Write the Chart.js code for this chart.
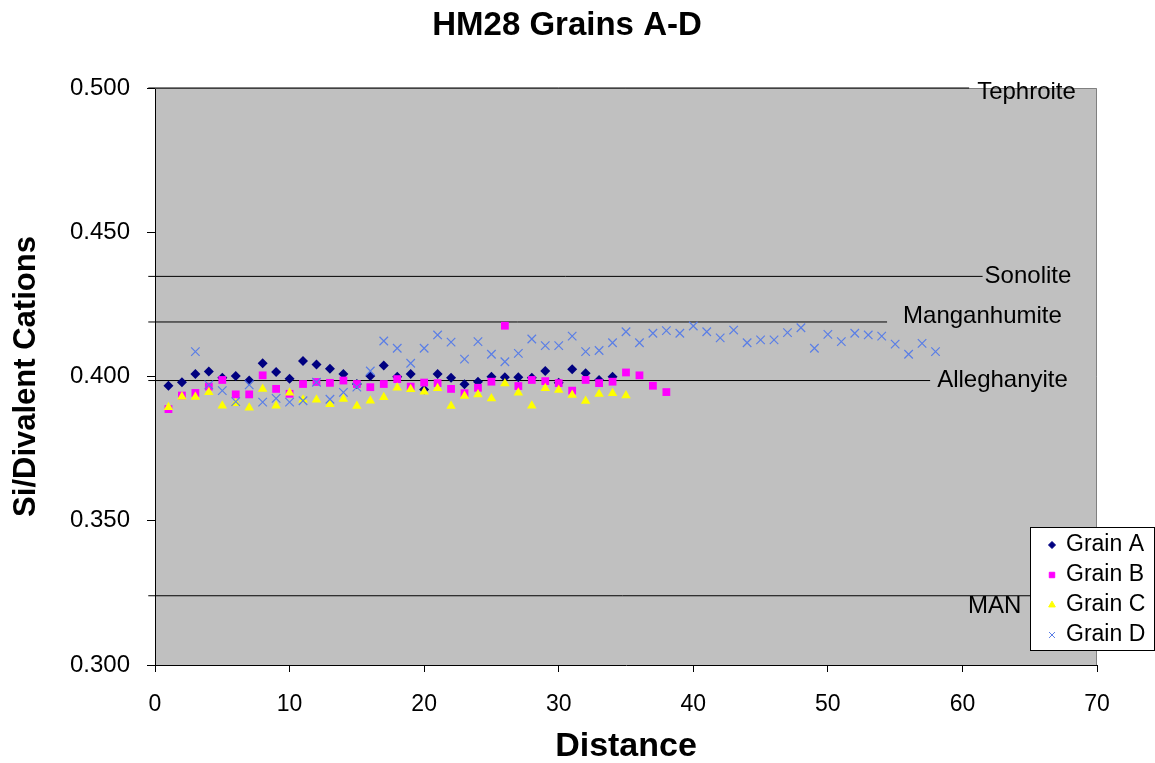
<!DOCTYPE html>
<html>
<head>
<meta charset="utf-8">
<title>HM28 Grains A-D</title>
<script src="https://cdn.jsdelivr.net/npm/chart.js@4.4.1/dist/chart.umd.min.js"></script>
<style>
  body { margin: 0; background: #fff; }
  #wrap { width: 1155px; height: 763px; }
</style>
</head>
<body>
<div id="wrap"><canvas id="chart"></canvas></div>
<script>
// Si / divalent cations along each traverse, one value per distance step
const grainA = [0.3968, 0.3980, 0.4009, 0.4017, 0.3996, 0.4002, 0.3986, 0.4046, 0.4016, 0.3992,
                0.4054, 0.4042, 0.4027, 0.4009, 0.3974, 0.4002, 0.4038, 0.3999, 0.4009, 0.3955,
                0.4009, 0.3996, 0.3973, 0.3982, 0.3999, 0.3997, 0.3997, 0.3996, 0.4019, 0.3978,
                0.4025, 0.4011, 0.3988, 0.3999];
const grainB = [0.3887, 0.3934, 0.3943, 0.3965, 0.3988, 0.3938, 0.3938, 0.4004, 0.3957, 0.3940,
                0.3974, 0.3981, 0.3978, 0.3986, 0.3974, 0.3963, 0.3974, 0.3991, 0.3965, 0.3979,
                0.3977, 0.3957, 0.3942, 0.3961, 0.3982, 0.4176, 0.3967, 0.3988, 0.3984, 0.3977,
                0.3951, 0.3988, 0.3977, 0.3982, 0.4014, 0.4004, 0.3968, 0.3946];
const grainC = [0.3893, 0.3930, 0.3929, 0.3945, 0.3899, 0.3907, 0.3892, 0.3957, 0.3899, 0.3944,
                0.3919, 0.3919, 0.3904, 0.3922, 0.3898, 0.3916, 0.3928, 0.3961, 0.3956, 0.3947,
                0.3959, 0.3898, 0.3932, 0.3938, 0.3924, 0.3976, 0.3944, 0.3899, 0.3959, 0.3953,
                0.3936, 0.3915, 0.3939, 0.3942, 0.3934];
// grain D starts at distance 3
const grainD = [0.4086, 0.3971, 0.3951, 0.3913, 0.3971, 0.3911, 0.3924, 0.3911, 0.3916, 0.3980,
                0.3921, 0.3945, 0.3963, 0.4019, 0.4123, 0.4098, 0.4046, 0.4098, 0.4144, 0.4119,
                0.4060, 0.4121, 0.4077, 0.4051, 0.4080, 0.4130, 0.4107, 0.4107, 0.4140, 0.4086,
                0.4090, 0.4117, 0.4155, 0.4117, 0.4150, 0.4159, 0.4150, 0.4175, 0.4155, 0.4134,
                0.4161, 0.4117, 0.4127, 0.4127, 0.4152, 0.4169, 0.4098, 0.4146, 0.4121, 0.4150,
                0.4144, 0.4140, 0.4112, 0.4077, 0.4115, 0.4086];
const grainStart = [1, 1, 1, 3];
const grainNames = ['Grain A', 'Grain B', 'Grain C', 'Grain D'];

// reference ratios of the Mn minerals
const minerals = ['Tephroite', 'Sonolite', 'Manganhumite', 'Alleghanyite', 'MAN'];
const mineralRatio = [0.500, 0.4347, 0.4189, 0.3986, 0.3240];
const mineralLineEnd = [60.5, 61.5, 54.4, 57.6, 70];
const mineralLineStart = -0.5;

const yTicks = [0.300, 0.350, 0.400, 0.450, 0.500];

const FONT = "'Liberation Sans', Arial, sans-serif";

function toPoints(values, start) {
	return values.map((v, i) => ({ x: start + i, y: v }));
}

// pixel nudges for the mineral names, relative to the end of their line
const labelNudge = [[8, 4], [2, 0], [16, -6], [7, 0], [-129, 11]];

const plotBackground = {
	id: 'plotBackground',
	beforeDraw(chart) {
		const { ctx, chartArea: a } = chart;
		ctx.save();
		ctx.fillStyle = '#c0c0c0';
		ctx.fillRect(a.left, a.top, a.right - a.left, a.bottom - a.top);
		ctx.restore();
	},
	beforeDatasetsDraw(chart) {
		const { ctx, chartArea: a } = chart;
		ctx.save();
		ctx.strokeStyle = '#808080';
		ctx.lineWidth = 1;
		ctx.beginPath();
		ctx.moveTo(a.left, a.top + 0.5);
		ctx.lineTo(a.right - 0.5, a.top + 0.5);
		ctx.lineTo(a.right - 0.5, a.bottom);
		ctx.stroke();
		ctx.restore();
	}
};

const mineralLabels = {
	id: 'mineralLabels',
	afterDatasetsDraw(chart) {
		const { ctx, scales } = chart;
		ctx.save();
		ctx.font = '24px ' + FONT;
		ctx.fillStyle = '#000';
		ctx.textBaseline = 'middle';
		ctx.textAlign = 'left';
		minerals.forEach((name, i) => {
			const x = scales.x.getPixelForValue(mineralLineEnd[i]) + labelNudge[i][0];
			const y = scales.y.getPixelForValue(mineralRatio[i]) + labelNudge[i][1];
			ctx.fillText(name, x, y);
		});
		ctx.restore();
	}
};

const boxLegend = {
	id: 'boxLegend',
	afterDraw(chart) {
		const { ctx } = chart;
		const left = 1030, top = 527, w = 124, h = 123;
		ctx.save();
		ctx.fillStyle = '#fff';
		ctx.fillRect(left, top, w, h);
		ctx.strokeStyle = '#000';
		ctx.lineWidth = 1;
		ctx.strokeRect(left + 0.5, top + 0.5, w, h);
		ctx.font = '23px ' + FONT;
		ctx.textBaseline = 'middle';
		ctx.textAlign = 'left';
		grainNames.forEach((name, i) => {
			const ds = chart.data.datasets[i];
			const y = top + 18 + i * 30;
			ctx.fillStyle = ds.backgroundColor;
			ctx.strokeStyle = ds.borderColor;
			ctx.lineWidth = 1;
			Chart.helpers.drawPoint(ctx, {
				pointStyle: ds.pointStyle,
				radius: ds.pointRadius * 0.7,
				borderWidth: 1
			}, left + 22, y);
			ctx.fillStyle = '#000';
			ctx.fillText(name, left + 36, y);
		});
		ctx.restore();
	}
};

const grainStyles = [
	{ color: '#000080', pointStyle: 'rectRot', radius: 5 },
	{ color: '#ff00ff', pointStyle: 'rect', radius: 5.5 },
	{ color: '#ffff00', pointStyle: 'triangle', radius: 5.5 },
	{ color: '#5a7ee6', pointStyle: 'crossRot', radius: 6 }
];
const grainValues = [grainA, grainB, grainC, grainD];

const datasets = grainValues.map((vals, i) => ({
	label: grainNames[i],
	data: toPoints(vals, grainStart[i]),
	pointStyle: grainStyles[i].pointStyle,
	pointRadius: grainStyles[i].radius,
	pointHoverRadius: grainStyles[i].radius,
	backgroundColor: grainStyles[i].color,
	borderColor: grainStyles[i].color,
	pointBorderWidth: grainStyles[i].pointStyle === 'crossRot' ? 1.2 : 0,
	showLine: false,
	order: 4 - i
}));

minerals.forEach((name, i) => {
	datasets.push({
		label: name,
		data: [{ x: mineralLineStart, y: mineralRatio[i] }, { x: mineralLineEnd[i], y: mineralRatio[i] }],
		showLine: true,
		borderColor: '#000',
		borderWidth: 1,
		pointRadius: 0,
		clip: false,
		order: 10
	});
});

new Chart(document.getElementById('chart'), {
	type: 'scatter',
	data: { datasets: datasets },
	options: {
		responsive: true,
		maintainAspectRatio: false,
		animation: false,
		events: [],
		layout: { padding: { left: 37, right: 58, top: 0, bottom: 0 } },
		plugins: {
			legend: { display: false },
			tooltip: { enabled: false },
			title: {
				display: true,
				text: 'HM28 Grains A-D',
				color: '#000',
				font: { family: FONT, size: 33, weight: 'bold', lineHeight: 1 },
				padding: { top: 9, bottom: 46 }
			}
		},
		scales: {
			x: {
				type: 'linear',
				min: 0,
				max: 70,
				afterFit(scale) { scale.height = 98; },
				ticks: {
					stepSize: 10,
					color: '#000',
					padding: 19,
					font: { family: FONT, size: 23 }
				},
				grid: { drawOnChartArea: false, drawTicks: true, tickLength: 7, color: '#000' },
				border: { display: true, color: '#000', width: 1 },
				title: {
					display: true,
					text: 'Distance',
					color: '#000',
					font: { family: FONT, size: 34, weight: 'bold', lineHeight: 1 },
					padding: { top: 0, bottom: -1 }
				}
			},
			y: {
				type: 'linear',
				min: 0.3,
				max: 0.5,
				afterFit(scale) { scale.width = 118; },
				afterBuildTicks(scale) { scale.ticks = yTicks.map(v => ({ value: v })); },
				ticks: {
					color: '#000',
					padding: 17,
					font: { family: FONT, size: 24 },
					callback: v => v.toFixed(3)
				},
				grid: { drawOnChartArea: false, drawTicks: true, tickLength: 8, color: '#000' },
				border: { display: true, color: '#000', width: 1 },
				title: {
					display: true,
					text: 'Si/Divalent Cations',
					color: '#000',
					font: { family: FONT, size: 31, weight: 'bold', lineHeight: 1 },
					padding: { top: -26, bottom: 0 }
				}
			}
		}
	},
	plugins: [plotBackground, mineralLabels, boxLegend]
});
</script>
</body>
</html>
